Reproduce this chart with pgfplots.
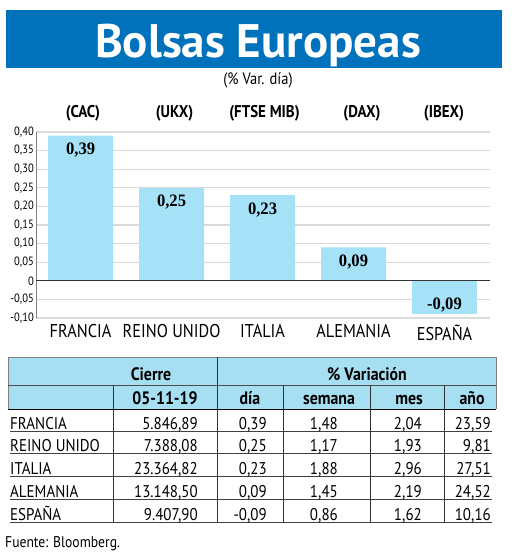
\documentclass[border=0pt]{standalone}
\usepackage{pgfplots}
\pgfplotsset{compat=1.18}
\usepackage{fontspec}
\setmainfont{PT Sans}[FakeStretch=0.88]
\newfontfamily\titlef{PT Sans}
\newfontfamily\serifb{Liberation Serif}[FakeStretch=0.95]
\newcommand\fs[1]{\fontsize{#1bp}{#1bp}\selectfont}
\definecolor{banner}{RGB}{0,114,188}
\definecolor{barc}{RGB}{166,226,247}
\definecolor{hdr}{RGB}{166,222,242}
\definecolor{gridc}{RGB}{218,218,218}
\newcommand\trow[7]{%
  \node[anchor=base west] at (10,-#1) {#2};
  \node[anchor=base east] at (198,-#1) {#3};
  \node[anchor=base east] at (267,-#1) {#4};
  \node[anchor=base east] at (338,-#1) {#5};
  \node[anchor=base east] at (422,-#1) {#6};
  \node[anchor=base east] at (491,-#1) {#7};}
\begin{document}
\begin{tikzpicture}[x=1bp,y=1bp]
\path[use as bounding box] (0,0) rectangle (520,-554);
% banner
\fill[banner] (6,-10) rectangle (502,-68);
\node[anchor=base, text=white, font=\titlef\fs{47}\bfseries, inner sep=0] at (258,-58) {Bolsas Europeas};
\node[anchor=base, font=\fs{16.5}, inner sep=0] at (258,-85) {(\% Var. día)};
% index labels
\foreach \xx/\lab in {83/(CAC),174.5/(UKX),264.5/(FTSE MIB),362/(DAX),444/(IBEX)}
  \node[anchor=base, font=\fs{17}\bfseries, inner sep=0] at (\xx,-118) {\lab};
\begin{axis}[
  at={(36bp,-318bp)}, anchor=south west,
  scale only axis, width=454bp, height=186bp,
  xmin=-0.49, xmax=4.5, ymin=-0.1, ymax=0.4,
  axis lines=left,
  x axis line style={draw=none},
  y axis line style={draw=gray, line width=0.6bp, -},
  ytick={-0.1,-0.05,0,0.05,0.1,0.15,0.2,0.25,0.3,0.35,0.4},
  yticklabels={{-0,10},{-0,05},0,{0,05},{0,10},{0,15},{0,20},{0,25},{0,30},{0,35},{0,40}},
  xtick={0,1,2,3,4},
  xticklabels={FRANCIA,REINO UNIDO,ITALIA,ALEMANIA,ESPAÑA},
  major tick length=0,
  ymajorgrids, grid style={gridc, line width=1.3bp},
  yticklabel style={font=\fs{12}, inner sep=2bp},
  xticklabel style={font=\fs{18.5}, yshift=-3bp},
  clip=false,
]
\addplot[ybar, bar width=65bp, fill=barc, draw=none,
  nodes near coords, point meta=explicit symbolic,
  nodes near coords align={anchor=north},
  every node near coord/.append style={yshift=-7bp, inner sep=0, font=\serifb\bfseries\fs{17.5}}]
  coordinates {(0,0.39)[0,39] (1,0.25)[0,25] (2,0.23)[0,23] (3,0.09)[0,09]};
\addplot[ybar, bar width=65bp, fill=barc, draw=none,
  nodes near coords, point meta=explicit symbolic,
  nodes near coords align={anchor=base},
  every node near coord/.append style={yshift=5bp, inner sep=0, font=\serifb\bfseries\fs{17.5}}]
  coordinates {(4,-0.09)[-0,09]};
\addplot[sharp plot, black!80, line width=1.2bp, mark=none] coordinates {(-0.49,0) (4.5,0)};
\end{axis}
% table
\fill[hdr] (8,-357) rectangle (496,-409);
\draw[gray, line width=0.6bp] (8,-409) -- (8,-357) -- (496,-357) -- (496,-409);
\draw[black!70, line width=0.7bp] (8,-385) -- (496,-385);
\draw[black, line width=1bp] (8,-409) -- (496,-409);
\draw[black!80, line width=0.7bp] (217,-357) -- (217,-522);
\foreach \xx in {113,283,370,444} \draw[black!80, line width=0.7bp] (\xx,-385) -- (\xx,-522);
\foreach \yy in {431,453,476,499,522} \draw[black!75, line width=0.7bp] (10,-\yy) -- (492,-\yy);
\begin{scope}[every node/.style={inner sep=0, font=\fs{18}\bfseries, anchor=base}]
\node at (151,-380) {Cierre};
\node at (367,-380) {\% Variación};
\node at (165,-404) {05-11-19};
\node at (250,-404) {día};
\node at (329,-404) {semana};
\node at (409,-404) {mes};
\node at (472,-404) {año};
\end{scope}
\begin{scope}[every node/.style={inner sep=0, font=\fs{17}}]
\trow{429}{FRANCIA}{5.846,89}{0,39}{1,48}{2,04}{23,59}
\trow{451}{REINO UNIDO}{7.388,08}{0,25}{1,17}{1,93}{9,81}
\trow{474}{ITALIA}{23.364,82}{0,23}{1,88}{2,96}{27,51}
\trow{497}{ALEMANIA}{13.148,50}{0,09}{1,45}{2,19}{24,52}
\trow{520}{ESPAÑA}{9.407,90}{-0,09}{0,86}{1,62}{10,16}
\end{scope}
\node[anchor=base west, inner sep=0, font=\fs{15.5}] at (5,-547) {Fuente: Bloomberg.};
\end{tikzpicture}
\end{document}
